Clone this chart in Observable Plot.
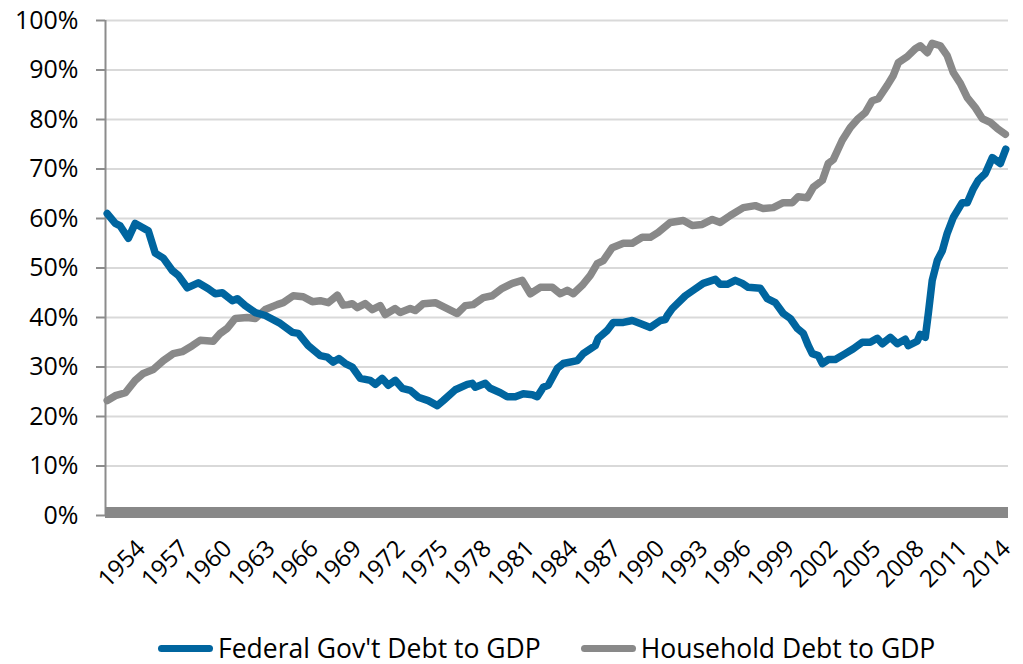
<!DOCTYPE html>
<html>
<head>
<meta charset="utf-8">
<script src="https://cdn.jsdelivr.net/npm/d3@7"></script>
<script src="https://cdn.jsdelivr.net/npm/@observablehq/plot@0.6"></script>
<style>
  html, body { margin: 0; padding: 0; background: #fff; }
  #wrap { position: relative; width: 1023px; height: 664px; font-family: "Open Sans", sans-serif; }
  #legend { display: flex; align-items: center; height: 44px; padding-left: 158px; padding-top: 12px; box-sizing: border-box; font-size: 26.5px; color: #000; line-height: 1; }
  .item { display: flex; align-items: center; }
  .sw { width: 55px; height: 7px; border-radius: 4px; margin-right: 5px; }
</style>
</head>
<body>
<div id="wrap"><div id="chart"></div><div id="legend"></div></div>
<script>
// Federal Gov't Debt to GDP (% of GDP)
const fedYear = [1951.64,1952.2,1952.54,1953.1,1953.58,1954.49,1954.97,1955.53,1956.15,1956.57,1957.19,1957.95,1958.65,1959.13,1959.62,1960.31,1960.66,1961.21,1961.91,1962.6,1963.64,1964.47,1964.89,1965.58,1966.41,1966.9,1967.31,1967.7,1968.15,1968.63,1969.19,1969.88,1970.23,1970.71,1971.13,1971.61,1972.1,1972.65,1973.21,1973.9,1974.53,1974.94,1975.78,1976.61,1976.95,1977.16,1977.86,1978.2,1978.9,1979.38,1979.94,1980.49,1981.12,1981.46,1981.88,1982.22,1982.85,1983.26,1984.24,1984.65,1985.48,1985.69,1986.32,1986.73,1987.43,1988.05,1988.6,1989.3,1990.0,1990.34,1990.48,1990.82,1991.03,1991.73,1992.28,1992.97,1993.81,1994.15,1994.64,1995.19,1995.68,1996.09,1996.93,1997.41,1997.97,1998.52,1999.01,1999.49,1999.91,2000.26,2000.53,2000.95,2001.23,2001.64,2002.13,2002.82,2003.38,2004.0,2004.55,2005.04,2005.39,2005.94,2006.43,2006.98,2007.19,2007.81,2008.02,2008.37,2008.58,2008.85,2009.2,2009.55,2009.89,2010.31,2010.93,2011.28,2011.7,2012.04,2012.53,2013.02,2013.57,2013.95];
const fedPct = [61,59,58.5,56,59,57.5,53,52,49.5,48.5,46,47,45.8,44.8,45,43.4,43.8,42.4,41,40.4,38.8,37,36.8,34.3,32.3,32,31,31.7,30.7,30,27.7,27.3,26.5,27.7,26.3,27.3,25.7,25.3,23.9,23.2,22.2,23.2,25.4,26.5,26.7,25.9,26.7,25.7,24.8,24,24,24.6,24.4,24,25.9,26.3,29.7,30.7,31.3,32.7,34.3,35.8,37.4,39,39,39.4,38.8,38,39.4,39.6,40.4,41.8,42.4,44.4,45.5,46.9,47.7,46.7,46.7,47.5,46.9,46.1,45.9,43.8,43,40.8,39.8,37.8,36.8,34.3,32.7,32.3,30.7,31.5,31.5,32.7,33.7,35,35,35.8,34.7,36,34.7,35.6,34.3,35.2,36.6,36,40.8,47.5,51.5,53.5,57,60.2,63.2,63.2,66,67.7,69.1,72.3,71.1,74];

// Household Debt to GDP (% of GDP)
const hhYear = [1951.64,1952.2,1952.9,1953.58,1954.14,1954.83,1955.53,1956.22,1956.84,1957.54,1958.09,1958.99,1959.48,1959.96,1960.52,1961.35,1961.91,1962.6,1963.43,1963.85,1964.54,1965.23,1965.86,1966.41,1966.97,1967.6,1968.0,1968.36,1968.63,1968.98,1969.53,1970.02,1970.57,1970.92,1971.61,1971.96,1972.65,1973.0,1973.56,1974.39,1975.08,1975.91,1976.47,1977.02,1977.72,1978.34,1979.03,1979.73,1980.42,1980.98,1981.67,1982.5,1983.06,1983.54,1983.96,1984.58,1985.14,1985.62,1986.04,1986.66,1987.43,1988.05,1988.74,1989.3,1989.85,1990.69,1991.59,1992.21,1992.9,1993.6,1994.15,1994.85,1995.75,1996.58,1997.13,1997.83,1998.52,1999.15,1999.56,2000.19,2000.6,2001.23,2001.64,2001.99,2002.61,2003.17,2003.72,2004.21,2004.69,2005.11,2005.73,2006.15,2006.5,2007.12,2007.68,2008.02,2008.51,2008.85,2009.41,2009.89,2010.31,2010.8,2011.28,2011.84,2012.32,2012.88,2013.36,2013.92];
const hhPct = [23.2,24.2,24.8,27.3,28.7,29.5,31.3,32.7,33.1,34.3,35.4,35.2,36.8,37.8,39.8,40,39.8,41.6,42.6,43,44.4,44.2,43.2,43.4,43,44.5,42.5,42.6,42.8,42,42.8,41.6,42.4,40.6,41.8,41,41.8,41.4,42.8,43,42,40.8,42.4,42.6,44,44.4,45.9,46.9,47.5,44.8,46.1,46.1,44.8,45.5,44.8,46.5,48.5,50.9,51.5,54.1,55,55,56.2,56.2,57.2,59.2,59.6,58.6,58.8,59.8,59.2,60.6,62.2,62.6,62,62.2,63.2,63.2,64.4,64.2,66.3,67.7,71.1,71.9,75.8,78.4,80.2,81.4,83.8,84.2,86.9,88.9,91.5,92.7,94.3,94.9,93.5,95.4,94.9,92.9,89.5,87.3,84.4,82.4,80.2,79.4,78.2,77];

const xTickYears = [1954,1957,1960,1963,1966,1969,1972,1975,1978,1981,1984,1987,1990,1993,1996,1999,2002,2005,2008,2011,2014];
const yTicks = [0,10,20,30,40,50,60,70,80,90,100];
const seriesNames = ["Federal Gov't Debt to GDP", "Household Debt to GDP"];
const seriesColors = ["#00659f", "#898989"];

const fed = fedYear.map((y, i) => ({year: y, pct: fedPct[i], s: seriesNames[0]}));
const hh = hhYear.map((y, i) => ({year: y, pct: hhPct[i], s: seriesNames[1]}));

const chart = Plot.plot({
  width: 1023,
  height: 620,
  marginTop: 20,
  marginBottom: 105,
  marginLeft: 105,
  marginRight: 15,
  style: {fontFamily: "'Open Sans', sans-serif", color: "#000", background: "#fff"},
  x: {domain: [1951.52, 2014.14]},
  y: {domain: [0, 100]},
  marks: [
    Plot.gridY(yTicks, {stroke: "#d9d9d9", strokeOpacity: 1, strokeWidth: 2}),
    Plot.axisY(yTicks, {tickSize: 9, tickPadding: 18, fontSize: 25, stroke: "#8c8c8c", strokeWidth: 2, tickFormat: d => d + "%", label: null}),
    Plot.axisX(xTickYears, {tickSize: 0, tickPadding: 29, tickRotate: -45, fontSize: 24, tickFormat: d => String(d), label: null}),
    Plot.ruleX([1951.52], {stroke: "#8c8c8c", strokeWidth: 2}),
    Plot.ruleY([0], {stroke: "#888888", strokeWidth: 11, dy: -3}),
    Plot.line(hh, {x: "year", y: "pct", stroke: seriesColors[1], strokeWidth: 7.5, strokeLinejoin: "round", strokeLinecap: "round"}),
    Plot.line(fed, {x: "year", y: "pct", stroke: seriesColors[0], strokeWidth: 7.5, strokeLinejoin: "round", strokeLinecap: "round"})
  ]
});
document.getElementById("chart").appendChild(chart);

const legend = document.getElementById("legend");
seriesNames.forEach((name, i) => {
  const item = document.createElement("div");
  item.className = "item";
  if (i > 0) item.style.marginLeft = "40px";
  const sw = document.createElement("div");
  sw.className = "sw";
  sw.style.background = seriesColors[i];
  const t = document.createElement("span");
  t.textContent = name;
  item.appendChild(sw);
  item.appendChild(t);
  legend.appendChild(item);
});
</script>
</body>
</html>
